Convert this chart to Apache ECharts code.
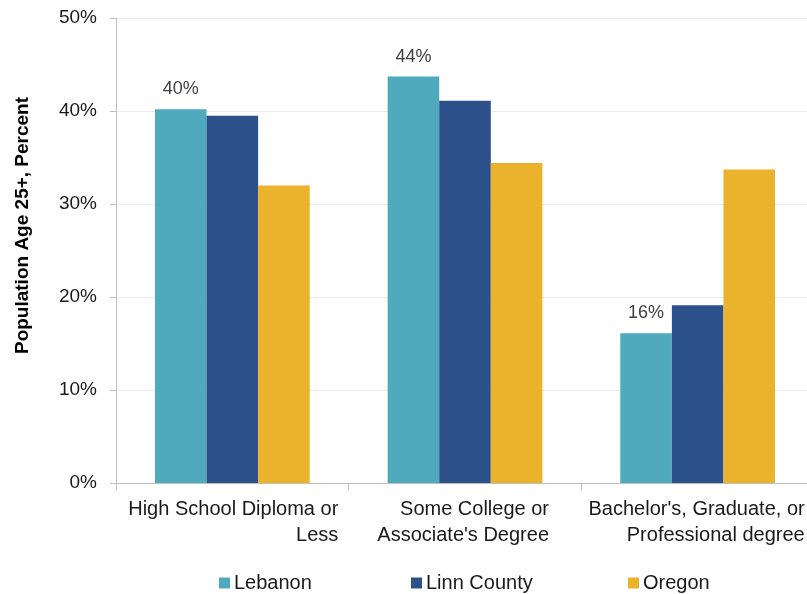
<!DOCTYPE html>
<html>
<head>
<meta charset="utf-8">
<script src="https://cdn.jsdelivr.net/npm/echarts@6/dist/echarts.min.js"></script>
<style>
html,body{margin:0;padding:0;background:#fff;}
#chart{width:807px;height:594px;}
</style>
</head>
<body>
<div id="chart"></div>
<script>
const categories = ["High School Diploma or\nLess", "Some College or\nAssociate's Degree", "Bachelor's, Graduate, or\nProfessional degree"];
const seriesNames = ["Lebanon", "Linn County", "Oregon"];
const lebanon = [40.2, 43.7, 16.1];
const linnCounty = [39.5, 41.1, 19.1];
const oregon = [32.0, 34.4, 33.7];
const yTicks = [0, 10, 20, 30, 40, 50];

const colors = ["#4FAABD", "#2C5089", "#EBB22C"];
const FONT = "'Liberation Sans', Arial, sans-serif";
const labelHalf = [106, 84, 107];

const chart = echarts.init(document.getElementById('chart'));
const rich = {};
labelHalf.forEach((d, i) => {
  rich['c' + i] = { width: 2 * d, align: 'right', fontSize: 20, fontFamily: FONT, color: '#1a1a1a', lineHeight: 26 };
});

chart.setOption({
  animation: false,
  textStyle: { fontFamily: FONT },
  grid: { left: 116, top: 18, right: -7, bottom: 111, containLabel: false, outerBoundsMode: 'none' },
  legend: [0, 1, 2].map(i => ({
    data: [seriesNames[i]],
    left: [219, 411, 628][i],
    top: 573,
    padding: 0,
    icon: 'rect',
    itemWidth: 11,
    itemHeight: 11,
    itemGap: 4,
    textStyle: { fontSize: 20, fontFamily: FONT, color: '#1a1a1a', padding: [0, 0, 0, -1] }
  })),
  xAxis: {
    type: 'category',
    data: categories,
    axisLine: { show: true, lineStyle: { color: '#bfbfbf', width: 1 } },
    axisTick: { show: true, length: 7, lineStyle: { color: '#bfbfbf' } },
    axisLabel: {
      margin: 13,
      align: 'center',
      formatter: function (v, idx) {
        return v.split('\n').map(l => '{c' + idx + '|' + l + '}').join('\n');
      },
      rich: rich
    }
  },
  yAxis: {
    type: 'value',
    min: yTicks[0],
    max: yTicks[yTicks.length - 1],
    interval: 10,
    name: 'Population Age 25+, Percent',
    nameLocation: 'middle',
    nameGap: 84,
    nameTextStyle: { fontSize: 19, fontWeight: 'bold', fontFamily: FONT, color: '#000', padding: [0, 0, 0, 50] },
    axisLine: { show: true, lineStyle: { color: '#bfbfbf', width: 1 } },
    axisTick: { show: true, length: 6, lineStyle: { color: '#bfbfbf' } },
    axisLabel: { formatter: '{value}%', fontSize: 19, fontFamily: FONT, color: '#1a1a1a', margin: 19 },
    splitLine: { show: true, lineStyle: { color: '#ebebeb', width: 1 } }
  },
  series: [
    {
      name: seriesNames[0], type: 'bar', data: lebanon, barGap: '0%', barCategoryGap: '33.5%',
      itemStyle: { color: colors[0] },
      label: { show: true, position: 'top', distance: 11, formatter: p => Math.round(p.value) + '%', fontSize: 18, fontFamily: FONT, color: '#404040' }
    },
    { name: seriesNames[1], type: 'bar', data: linnCounty, barGap: '0%', barCategoryGap: '33.5%', itemStyle: { color: colors[1] } },
    { name: seriesNames[2], type: 'bar', data: oregon, barGap: '0%', barCategoryGap: '33.5%', itemStyle: { color: colors[2] } }
  ]
});
</script>
</body>
</html>
